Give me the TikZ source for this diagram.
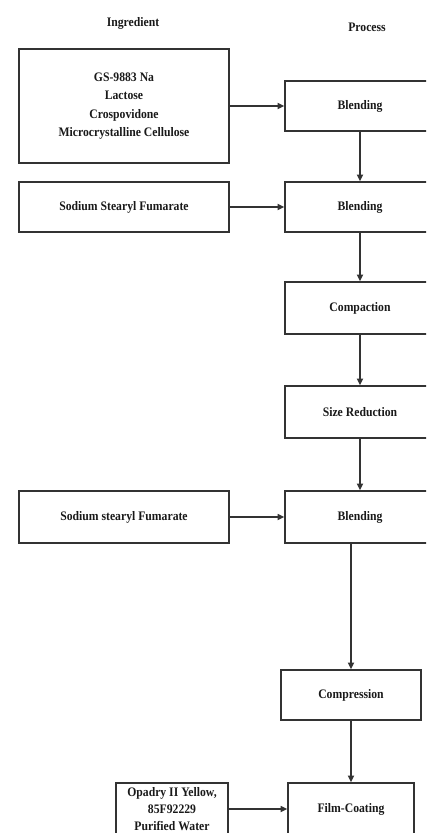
\documentclass[tikz,border=0pt]{standalone}
\usepackage{fontspec}
\setmainfont{Liberation Serif}[FakeStretch=0.9]
\usetikzlibrary{arrows.meta}
\begin{document}
\begin{tikzpicture}[x=1pt,y=-1pt,
  box/.style={draw=black!80, line width=1.6pt, inner sep=0pt, align=center,
    font=\bfseries\fontsize{13}{18.5}\selectfont, text=black!90},
  arr/.style={draw=black!80, line width=1.6pt, -{Triangle[length=6.5pt,width=6pt]}},
  head/.style={font=\bfseries\fontsize{13}{15}\selectfont, text=black!90}]
\useasboundingbox (0,0) rectangle (426,833);
\clip (0,0) rectangle (426,833);
\node[head] (hi) at (133,23) {Ingredient};
\node[head] (hp) at (367,27) {Process};
\node[box, minimum width=210pt, minimum height=114pt] (i1) at (124,106)
  {GS-9883 Na\\Lactose\\Crospovidone\\Microcrystalline Cellulose};
\node[box, minimum width=150pt, minimum height=50pt] (b1) at (360,106) {Blending};
\node[box, minimum width=210pt, minimum height=50pt] (i2) at (124,207) {Sodium Stearyl Fumarate};
\node[box, minimum width=150pt, minimum height=50pt] (b2) at (360,207) {Blending};
\node[box, minimum width=150pt, minimum height=52pt] (c1) at (360,308) {Compaction};
\node[box, minimum width=150pt, minimum height=52pt] (s1) at (360,412) {Size Reduction};
\node[box, minimum width=210pt, minimum height=52pt] (i3) at (124,517) {Sodium stearyl Fumarate};
\node[box, minimum width=150pt, minimum height=52pt] (b3) at (360,517) {Blending};
\node[box, minimum width=140pt, minimum height=50pt] (cp) at (351,695) {Compression};
\node[box, minimum width=126pt, minimum height=52pt] (fc) at (351,809) {Film-Coating};
\node[box, minimum width=112pt, minimum height=52pt,
  font=\bfseries\fontsize{13}{17}\selectfont] (op) at (172,809)
  {Opadry II Yellow,\\85F92229\\Purified Water};
\draw[arr] (i1.east) -- (b1.west);
\draw[arr] (i2.east) -- (b2.west);
\draw[arr] (i3.east) -- (b3.west);
\draw[arr] (op.east) -- (fc.west);
\draw[arr] (b1.south) -- (b2.north);
\draw[arr] (b2.south) -- (c1.north);
\draw[arr] (c1.south) -- (s1.north);
\draw[arr] (s1.south) -- (b3.north);
\draw[arr] (b3.south -| cp.north) -- (cp.north);
\draw[arr] (cp.south) -- (fc.north);
\end{tikzpicture}
\end{document}
